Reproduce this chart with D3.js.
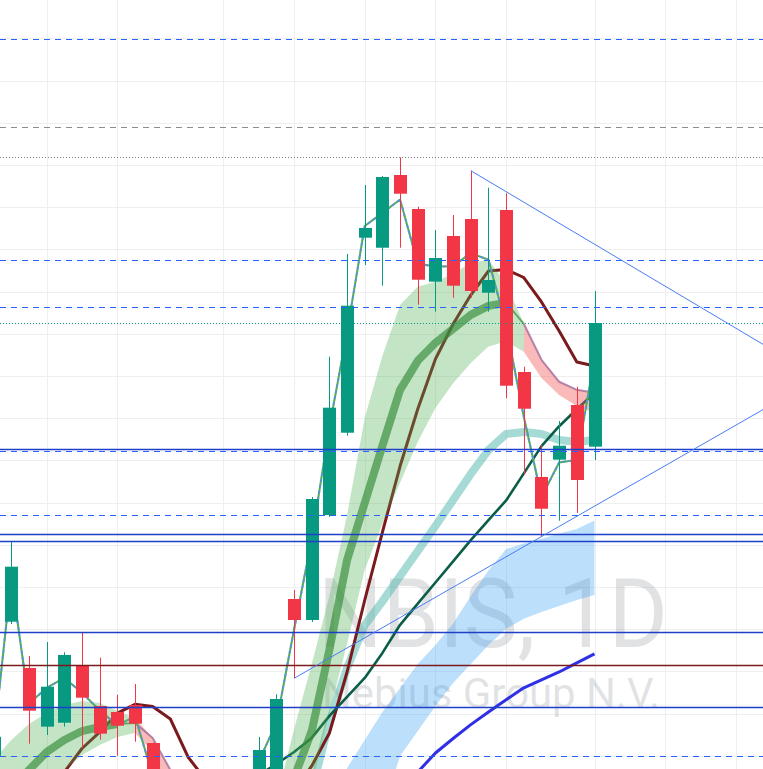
<!DOCTYPE html>
<html><head><meta charset="utf-8">
<script src="https://cdn.jsdelivr.net/npm/d3@7"></script>
<style>html,body{margin:0;padding:0;background:#fff;overflow:hidden}svg{display:block}</style>
</head><body>
<svg id="chart" width="763" height="769"></svg>
<script>
// ---------- DATA (bar index starts at -1) ----------
const firstBar = -1;
const opens  = [30, 61.78, 50.81, 36.9, 37.84, 51.45, 41.8, 40.38, 42.04, 33.03, 23.5, 21, 18, 19.5, 17.5, 20.5, 26.16, 67.16, 62.18, 87.06, 106.56, 152.77, 150.40, 167.63, 159.57, 142.35, 153.18, 157.20, 139.74, 159.34, 120.95, 96.07, 100.17, 113.13, 103.25];
const highs  = [36, 80.73, 53.65, 56.97, 54.53, 59.27, 53.25, 44.48, 47.01, 33.1, 24.5, 22, 21, 20.5, 22, 34.45, 44.57, 69.29, 91.33, 124.57, 148.91, 165.26, 167.40, 171.83, 160.12, 154.60, 158.15, 168.65, 164.62, 163.29, 122.20, 103.65, 109.34, 117.46, 140.14];
const lows   = [29, 61.23, 32.87, 34.93, 36.9, 31.85, 33.82, 30.02, 33.34, 20, 19.5, 17, 16.5, 16, 17, 20, 25.45, 48.36, 61.71, 86.59, 105.85, 146.30, 141.40, 150.40, 136.90, 135.24, 138.55, 138.55, 135.24, 114.72, 96.54, 81.92, 85.71, 87.54, 100.09];
const closes = [34.5, 74.81, 40.69, 46.37, 53.89, 43.77, 35.24, 37.13, 37.61, 23.1, 21, 18, 19.5, 17.5, 20, 31.37, 43.46, 62.18, 90.85, 112.49, 136.66, 155.07, 167.16, 163.20, 142.82, 147.96, 141.40, 140.14, 142.75, 117.70, 112.25, 88.55, 103.48, 95.36, 132.56];
// typical-price line
const typical = [33.17, 72.26, 42.40, 46.09, 48.44, 44.96, 40.77, 37.21, 39.32, 25.4, 21.67, 19.0, 19.0, 18.0, 19.67, 28.61, 37.83, 59.94, 81.3, 107.88, 130.47, 155.54, 158.65, 161.81, 146.61, 145.93, 146.03, 149.11, 147.54, 131.9, 110.33, 91.37, 99.51, 100.12, 124.26];

// moving averages (start bar + values)
const maroonStart = 2;
const maroonMA = [19.53, 26.16, 31.73, 35.6, 40.1, 42.2, 41.7, 38.72, 29.72, 24.3, 18.34, 15.97, 15.97, 18.34, 21.9, 27.58, 35.4, 49.86, 66.92, 83.03, 98.67, 112.18, 124.03, 132.32, 139.19, 144.88, 145.24, 143.34, 137.54, 130.66, 123.32, 122.37];
const darkGreenStart = 14;
const darkGreenMA = [25.45, 28.06, 30.90, 34.24, 39.45, 43.96, 48.46, 54.38, 61.04, 66.07, 71.07, 76.09, 81.09, 85.85, 90.50, 96.92, 103.39, 108.10, 112.13, 116.02];
const tealStart = 17;
const tealMA = [21.90, 38.01, 50.81, 61.00, 66.59, 72.61, 78.53, 84.45, 90.62, 96.78, 102.46, 106.26, 106.73, 106.26, 104.83, 104.36, 104.83];

// cloud (from bar -1)
const cloudUpper = [29.0, 33.73, 37.52, 40.14, 42.04, 42.99, 42.51, 40.62, 38.96, 34.24, 26.64, 19.53, 12, 10, 10, 12, 19.53, 36.35, 51.75, 67.94, 87.06, 110.09, 124.79, 136.87, 141.14, 142.32, 144.22, 146.82, 147.54, 141.85, 132.37, 123.84, 118.63, 116.73, 116.02];
const cloudLower = [5.31, 11.56, 17.16, 23.08, 26.64, 30.19, 32.56, 34.45, 35.4, 30.9, 20.71, 12.42, 5, 3, 3, 4, 5.3, 12.42, 23.08, 40.33, 56.54, 74.08, 84.98, 94.69, 104.41, 112.44, 118.29, 123.08, 127.0, 128.2, 125.73, 119.53, 115.5, 112.9, 111.23];
const cloudBasis = [17.16, 21.9, 26.64, 30.9, 33.73, 35.87, 36.82, 37.52, 37.77, 34.24, 26.64, 19.53, 10, 7, 7, 8, 12.4, 24.74, 35.87, 55.17, 76.4, 89.95, 103.46, 116.73, 123.6, 127.87, 131.18, 134.5, 136.63, 137.35, 132.37, 123.84, 118.63, 116.73, 116.02];
const cloudTrend = [1, 1, 1, 1, 1, 1, 1, 1, 1, -1, -1, -1, -1, -1, -1, -1, -1, 1, 1, 1, 1, 1, 1, 1, 1, 1, 1, 1, 1, 1, 1, -1, -1, -1, -1];

// blue channel (from bar 19) and blue line (from bar 22)
const blueStart = 19;
const blueUpper = [27.1, 33.74, 40.38, 46.07, 51.75, 56.26, 61.35, 67.87, 73.91, 79.0, 80.31, 81.45, 82.68, 83.74, 85.76];
const blueLower = [0, 5.31, 17.16, 29.95, 35.87, 41.80, 47.25, 51.75, 56.26, 60.10, 62.47, 64.05, 65.52, 66.92, 68.10];
const blueLineStart = 22;
const blueLine = [19.53, 26.16, 30.66, 34.10, 37.39, 40.38, 43.27, 46.11, 48.0, 49.86, 52.0, 54.17];

// drawings
const trendUpper = [[26, 168.65], [44, 123.86]];
const trendLower = [[16, 48.36], [44, 115.55]];
const levelsBlueDashed = [199.8, 147.5, 136.4, 102.16, 87.06, 29.95];
const levelsBlueSolid = [102.7, 82.56, 80.9, 59.34, 41.56];
const levelsGrayDashed = [179.0];
const levelsGrayDotted = [171.9];
const levelsRedSolid = [51.52];

const gridPrices = d3.range(30, 210, 10);
const gridBars = [2, 6, 12, 16, 20, 24, 28, 33, 37, 41];
const watermarkTitle = "NBIS, 1D";
const watermarkSub = "Nebius Group N.V.";

// ---------- SCALES ----------
const W = 763, H = 769;
const x = d3.scaleLinear().domain([0, 33]).range([11.3, 594.5]);
const y = d3.scaleLinear().domain([26.872, 209.1]).range([H, 0]);
const svg = d3.select("#chart");
svg.append("rect").attr("width", W).attr("height", H).attr("fill", "#fff");

// grid
const grid = svg.append("g");
grid.selectAll("line.h").data(gridPrices).join("line")
  .attr("x1", 0).attr("x2", W)
  .attr("y1", d => Math.round(y(d)) + 0.5).attr("y2", d => Math.round(y(d)) + 0.5)
  .attr("stroke", "#efefef").attr("stroke-width", 1);
grid.selectAll("line.v").data(gridBars).join("line")
  .attr("y1", 0).attr("y2", H)
  .attr("x1", d => Math.round(x(d)) + 0.5).attr("x2", d => Math.round(x(d)) + 0.5)
  .attr("stroke", "#efefef").attr("stroke-width", 1);

// watermark
const wm = svg.append("g").attr("fill", "rgba(120,123,134,0.22)").attr("font-family", "Roboto, 'Liberation Sans', sans-serif");
wm.append("text").attr("x", 318).attr("y", 647).attr("font-size", 96)
  .attr("textLength", 350).attr("lengthAdjust", "spacingAndGlyphs").text(watermarkTitle);
wm.append("text").attr("x", 322).attr("y", 708).attr("font-size", 42)
  .attr("textLength", 338).attr("lengthAdjust", "spacingAndGlyphs").text(watermarkSub);

function series(start, vals) { return vals.map((v, k) => ({ b: start + k, v })); }
const lineGen = d3.line().x(d => x(d.b)).y(d => y(d.v)).defined(d => d.v != null);

// moving average lines (under the clouds)
svg.append("path").datum(series(tealStart, tealMA)).attr("d", lineGen)
  .attr("fill", "none").attr("stroke", "rgba(77,182,172,0.5)").attr("stroke-width", 8).attr("stroke-linejoin", "round");
svg.append("path").datum(series(maroonStart, maroonMA)).attr("d", lineGen)
  .attr("fill", "none").attr("stroke", "#7b1a1d").attr("stroke-width", 3).attr("stroke-linejoin", "round");
svg.append("path").datum(series(darkGreenStart, darkGreenMA)).attr("d", lineGen)
  .attr("fill", "none").attr("stroke", "#0b5d47").attr("stroke-width", 2.6).attr("stroke-linejoin", "round");

// cloud areas by runs of trend
const cloud = cloudUpper.map((u, k) => ({ b: firstBar + k, u, l: cloudLower[k], m: cloudBasis[k], t: cloudTrend[k] }));
const runs = [];
for (let k = 1; k < cloud.length; k++) {
  const t = cloud[k].t;
  const last = runs[runs.length - 1];
  if (last && last.t === t) last.pts.push(cloud[k]);
  else runs.push({ t, pts: [cloud[k - 1], cloud[k]] });
}
const areaGen = d3.area().x(d => x(d.b)).y0(d => y(d.l)).y1(d => y(d.u));
runs.forEach(r => {
  svg.append("path").datum(r.pts).attr("d", areaGen)
    .attr("fill", r.t > 0 ? "rgba(76,175,80,0.33)" : "rgba(239,83,80,0.4)");
});
// blue channel
const blue = blueUpper.map((u, k) => ({ b: blueStart + k, u, l: blueLower[k] }));
svg.append("path").datum(blue).attr("d", areaGen).attr("fill", "rgba(33,150,243,0.3)");

// cloud basis: thick while rising, thin at the turn and while falling
const basisGen = d3.line().x(d => x(d.b)).y(d => y(d.m));
runs.forEach((r, ri) => {
  if (r.t > 0) {
    const hasNext = ri < runs.length - 1;
    const thick = hasNext ? r.pts.slice(0, -1) : r.pts;
    svg.append("path").datum(thick).attr("d", basisGen).attr("fill", "none")
      .attr("stroke", "rgba(56,142,60,0.68)").attr("stroke-width", 8).attr("stroke-linejoin", "round");
    if (hasNext) {
      svg.append("path").datum(r.pts.slice(-2)).attr("d", basisGen).attr("fill", "none")
        .attr("stroke", "rgba(56,142,60,0.7)").attr("stroke-width", 2);
    }
  } else {
    svg.append("path").datum(r.pts).attr("d", basisGen).attr("fill", "none")
      .attr("stroke", "rgba(160,100,150,0.75)").attr("stroke-width", 2).attr("stroke-linejoin", "round");
  }
});

// blue line
svg.append("path").datum(series(blueLineStart, blueLine)).attr("d", lineGen)
  .attr("fill", "none").attr("stroke", "#2f2fe6").attr("stroke-width", 3).attr("stroke-linejoin", "round");

// typical price line
const tp = series(firstBar, typical);
svg.append("path").datum(tp).attr("d", lineGen).attr("fill", "none")
  .attr("stroke", "#4caf50").attr("stroke-width", 2);
svg.append("path").datum(tp).attr("d", lineGen).attr("fill", "none")
  .attr("stroke", "rgba(100,140,235,0.85)").attr("stroke-width", 2).attr("stroke-dasharray", "3,3");

// candles
const bars = opens.map((o, k) => ({ b: firstBar + k, o, h: highs[k], l: lows[k], c: closes[k] }));
const bodyW = 13;
const cg = svg.append("g");
const cs = cg.selectAll("g").data(bars).join("g");
cs.append("line")
  .attr("x1", d => Math.round(x(d.b)) + 0.5).attr("x2", d => Math.round(x(d.b)) + 0.5)
  .attr("y1", d => y(d.h)).attr("y2", d => y(d.l))
  .attr("stroke", d => d.c >= d.o ? "#089981" : "#f23645").attr("stroke-width", 1);
cs.append("rect")
  .attr("x", d => Math.round(x(d.b)) + 0.5 - bodyW / 2).attr("width", bodyW)
  .attr("y", d => y(Math.max(d.o, d.c)))
  .attr("height", d => Math.max(1, Math.abs(y(d.o) - y(d.c))))
  .attr("fill", d => d.c >= d.o ? "#089981" : "#f23645");

// horizontal levels (snapped to the pixel grid)
function hlines(data, color, width, dash) {
  svg.append("g").selectAll("line").data(data).join("line")
    .attr("x1", 0).attr("x2", W)
    .attr("y1", d => Math.round(y(d)) + 0.5).attr("y2", d => Math.round(y(d)) + 0.5)
    .attr("stroke", color).attr("stroke-width", width)
    .attr("stroke-dasharray", dash || null);
}
hlines(levelsBlueDashed, "#2962ff", 1, "6,5");
hlines(levelsGrayDashed, "#8c8c8c", 1, "6,5");
hlines(levelsGrayDotted, "#7f7f7f", 1, "1,2");
hlines([closes[closes.length - 1]], "#089981", 1, "1,2");
hlines(levelsBlueSolid, "#1c40c8", 1.4);
hlines(levelsRedSolid, "#7b1a1d", 1.4);

// trend lines
[trendUpper, trendLower].forEach(t => {
  svg.append("line")
    .attr("x1", x(t[0][0])).attr("y1", y(t[0][1]))
    .attr("x2", x(t[1][0])).attr("y2", y(t[1][1]))
    .attr("stroke", "#4a7cf7").attr("stroke-width", 1);
});
</script>
</body></html>
